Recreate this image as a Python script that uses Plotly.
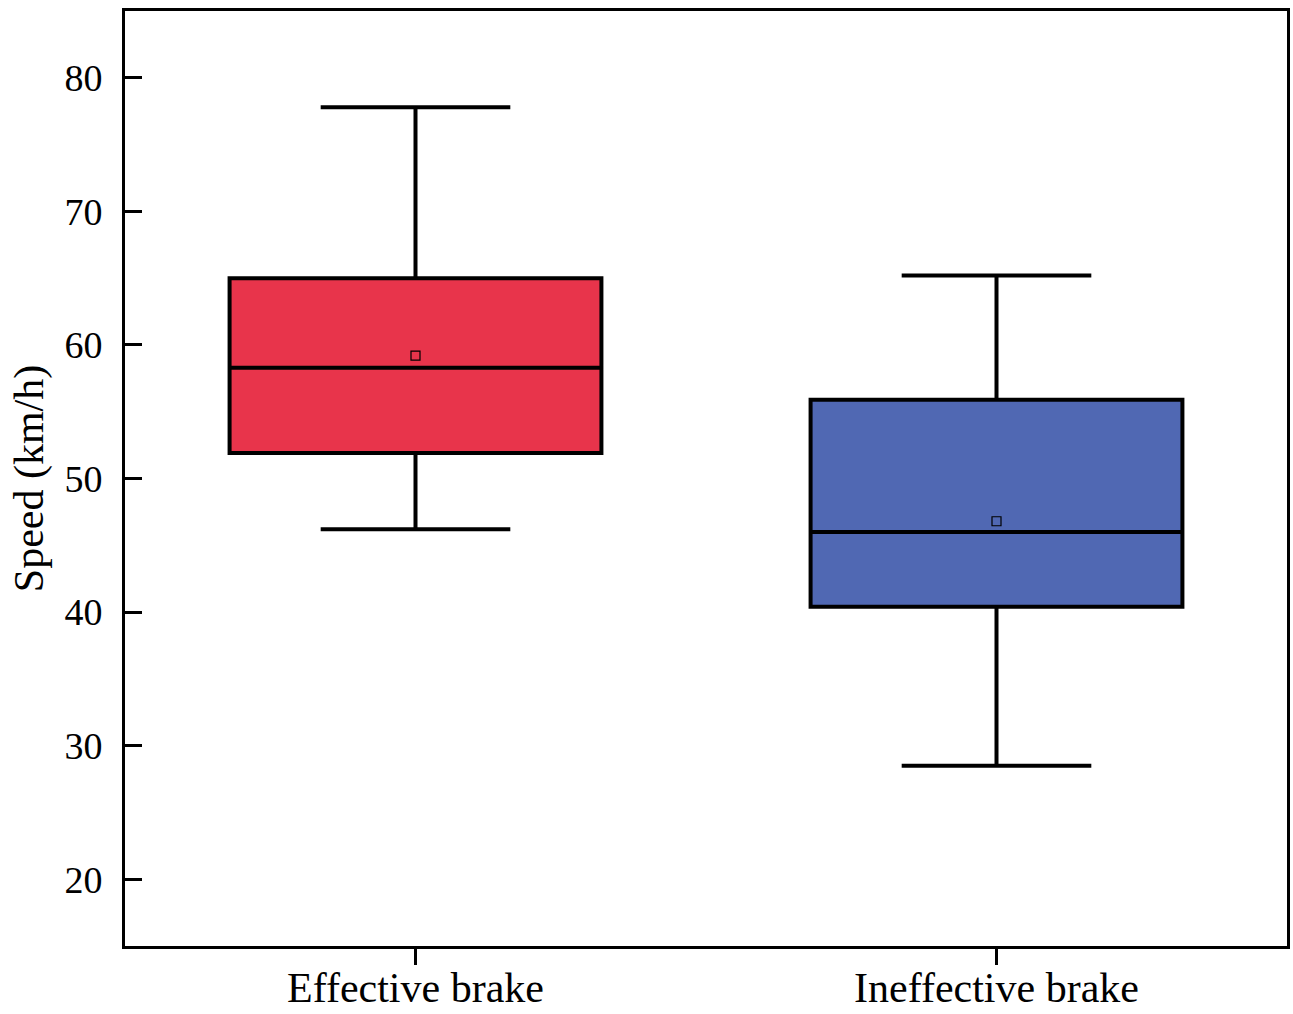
import plotly.graph_objects as go

# Summary statistics of vehicle speed (km/h) for each braking outcome
groups = ["Effective brake", "Ineffective brake"]
lower_whisker = [46.2, 28.5]
q1_values = [51.9, 40.4]
medians = [58.3, 46.0]
q3_values = [65.0, 55.9]
upper_whisker = [77.8, 65.2]
means = [59.2, 46.8]
fill_colors = ["#E8344B", "#5068B3"]

y_ticks = [20, 30, 40, 50, 60, 70, 80]

fig = go.Figure()

for i, name in enumerate(groups):
    fig.add_trace(go.Box(
        x=[name],
        q1=[q1_values[i]],
        median=[medians[i]],
        q3=[q3_values[i]],
        lowerfence=[lower_whisker[i]],
        upperfence=[upper_whisker[i]],
        fillcolor=fill_colors[i],
        line=dict(color="black", width=4),
        width=0.64,
        whiskerwidth=0.51,
        boxpoints=False,
        showlegend=False,
        hoverinfo="skip",
    ))

# Mean markers
fig.add_trace(go.Scatter(
    x=groups,
    y=means,
    mode="markers",
    marker=dict(symbol="square-open", size=9, color="black", line=dict(width=1.2)),
    showlegend=False,
    hoverinfo="skip",
))

fig.update_layout(
    width=1293,
    height=1014,
    margin=dict(l=125, r=6, t=11, b=68),
    paper_bgcolor="white",
    plot_bgcolor="white",
    font=dict(family="Liberation Serif, Times New Roman, serif", color="black"),
)

fig.update_xaxes(
    type="category",
    range=[-0.5, 1.5],
    automargin=False,
    showline=True,
    linecolor="black",
    linewidth=3,
    mirror=True,
    ticks="outside",
    ticklen=16,
    tickwidth=3,
    tickcolor="black",
    tickfont=dict(size=42),
    ticklabelstandoff=-13,
    showgrid=False,
    zeroline=False,
)

fig.update_yaxes(
    range=[15, 85],
    tickvals=y_ticks,
    automargin=False,
    showline=True,
    linecolor="black",
    linewidth=3,
    mirror=True,
    ticks="inside",
    ticklen=17,
    tickwidth=3,
    tickcolor="black",
    tickfont=dict(size=38),
    ticklabelstandoff=12,
    showgrid=False,
    zeroline=False,
    title=dict(text="Speed (km/h)", font=dict(size=42), standoff=8),
)

fig.write_html("out.html")
